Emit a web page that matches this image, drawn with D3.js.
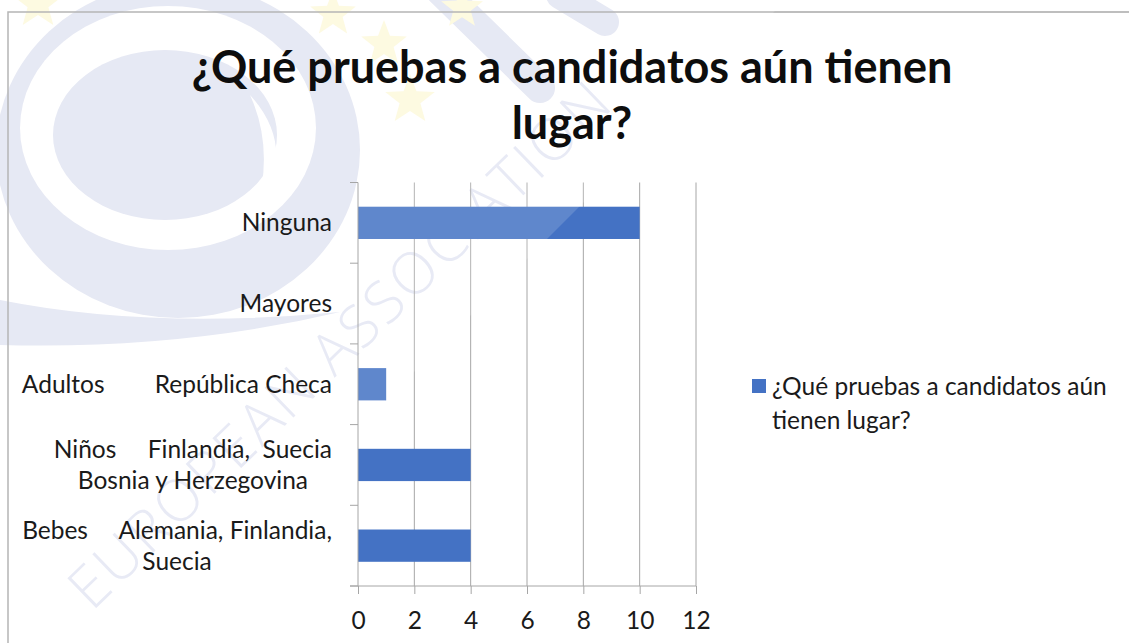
<!DOCTYPE html>
<html>
<head>
<meta charset="utf-8">
<script src="https://cdn.jsdelivr.net/npm/d3@7"></script>
<style>
  html, body { margin: 0; padding: 0; background: #fff; }
  svg { display: block; }
  text { font-family: Lato, "Noto Sans", sans-serif; }
</style>
</head>
<body>
<div id="canvas"></div>
<script>
// data
var categories = ['Ninguna', 'Mayores', 'Adultos', 'Ninos', 'Bebes'];
var values = [10, 0, 1, 4, 4];
var labelLines = [
    ['Ninguna'],
    ['Mayores'],
    ['Adultos        República Checa'],
    ['Niños     Finlandia,  Suecia', 'Bosnia y Herzegovina'],
    ['Bebes     Alemania, Finlandia,', 'Suecia']
];
var xTicks = [0, 2, 4, 6, 8, 10, 12];
var titleLines = ['¿Qué pruebas a candidatos aún tienen', 'lugar?'];
var legendLines = ['¿Qué pruebas a candidatos aún', 'tienen lugar?'];

var W = 1129, H = 643;
var m = {t:182.5, r:433, b:57, l:358};
var fs = 24.5;

var svg = d3.select('#canvas')
    .append('svg')
    .attr('width', W)
    .attr('height', H);

// watermark (faint logo behind everything)
var wm = svg.append('g').attr('class', 'watermark');
var lav = '#e2e5f2';
wm.append('ellipse').attr('cx', 178).attr('cy', 150).attr('rx', 182).attr('ry', 168).attr('fill', lav);
wm.append('ellipse').attr('cx', 168).attr('cy', 128).attr('rx', 148).attr('ry', 122).attr('fill', '#fff');
wm.append('ellipse').attr('cx', 165).attr('cy', 135).attr('rx', 112).attr('ry', 85).attr('fill', lav);
wm.append('path')
    .attr('d', 'M250,95 Q300,150 255,215 Q275,150 250,95 Z')
    .attr('fill', '#fff');
wm.append('path')
    .attr('d', 'M0,300 Q150,330 340,312 Q180,350 0,345 Z')
    .attr('fill', lav);
wm.append('line').attr('x1', 440).attr('y1', -10).attr('x2', 540).attr('y2', 88)
    .attr('stroke', lav).attr('stroke-width', 30).attr('stroke-linecap', 'round');
wm.append('line').attr('x1', 560).attr('y1', -5).attr('x2', 605).attr('y2', 22)
    .attr('stroke', lav).attr('stroke-width', 28).attr('stroke-linecap', 'round');

function star(cx, cy, r) {
    var pts = d3.range(10).map(function(i){
        var a = -Math.PI/2 + i*Math.PI/5;
        var rr = i % 2 ? r*0.42 : r;
        return [cx + rr*Math.cos(a), cy + rr*Math.sin(a)];
    });
    return 'M' + pts.join('L') + 'Z';
}
[[38, 4, 26], [333, 14, 24], [384, 44, 24], [410, 100, 26], [462, 8, 22]].forEach(function(s){
    wm.append('path').attr('d', star(s[0], s[1], s[2])).attr('fill', '#fdf9dc');
});

wm.append('text')
    .attr('transform', 'translate(92,612) rotate(-44)')
    .attr('font-size', 58)
    .attr('letter-spacing', 3)
    .attr('fill', '#e4e7f4')
    .style('font-family', '"Open Sans", sans-serif')
    .style('font-weight', 300)
    .text('EUROPEAN ASSOCIATION');

// chart area border
svg.append('path')
    .attr('d', 'M8,' + H + 'V12H' + W)
    .attr('fill', 'none')
    .attr('stroke', '#a9a9a9')
    .attr('stroke-width', 1.5);

// scales
var scaleX = d3.scaleLinear()
    .domain([0, 12])
    .range([m.l, W - m.r]);
var scaleY = d3.scaleBand()
    .domain(categories)
    .range([m.t, H - m.b])
    .paddingInner(0.6)
    .paddingOuter(0.3);

var y0 = m.t, y1 = H - m.b;
var step = scaleY.step();
var gridColor = '#a6a6a6';

// vertical gridlines
svg.append('g').selectAll('line')
    .data(xTicks.slice(1))
    .enter().append('line')
    .attr('x1', function(d){ return scaleX(d); })
    .attr('x2', function(d){ return scaleX(d); })
    .attr('y1', y0).attr('y2', y1)
    .attr('stroke', gridColor).attr('stroke-width', 1);

// bars
svg.append('g').selectAll('rect')
    .data(values)
    .enter().append('rect')
    .attr('x', scaleX(0))
    .attr('y', function(d, i){ return scaleY(categories[i]); })
    .attr('width', function(d){ return scaleX(d) - scaleX(0); })
    .attr('height', scaleY.bandwidth())
    .attr('fill', '#4472c4');

// faint lightening from the watermark over the bars
svg.append('path')
    .attr('d', 'M0,0H786L0,786Z')
    .attr('fill', '#fff')
    .attr('opacity', 0.15);

// x axis
var axisX = d3.axisBottom(scaleX)
    .tickValues(xTicks)
    .tickSize(8)
    .tickSizeOuter(0)
    .tickPadding(18);
var gx = svg.append('g')
    .attr('transform', 'translate(0,' + y1 + ')')
    .call(axisX);
gx.select('.domain').remove();
gx.append('line')
    .attr('x1', m.l - 8).attr('x2', scaleX(12))
    .attr('stroke', gridColor);
gx.selectAll('.tick line').attr('stroke', gridColor);
gx.selectAll('.tick text')
    .attr('fill', '#1a1a1a')
    .attr('font-size', fs)
    .style('font-family', 'Lato, sans-serif');

// y axis line and band ticks
var gy = svg.append('g');
gy.append('line')
    .attr('x1', m.l).attr('x2', m.l)
    .attr('y1', y0).attr('y2', y1)
    .attr('stroke', gridColor);
gy.selectAll('.bt')
    .data(d3.range(categories.length + 1))
    .enter().append('line')
    .attr('x1', m.l - 8).attr('x2', m.l)
    .attr('y1', function(i){ return y0 + i*step; })
    .attr('y2', function(i){ return y0 + i*step; })
    .attr('stroke', gridColor);

// category labels (right aligned block, lines centred on each other)
var lineH = 31;
var labelRight = 332;
labelLines.forEach(function(lines, i){
    var cy = scaleY(categories[i]) + scaleY.bandwidth()/2;
    var g = svg.append('g');
    var texts = lines.map(function(l, j){
        return g.append('text')
            .attr('y', cy + (j - (lines.length - 1)/2)*lineH)
            .attr('dy', '0.35em')
            .attr('font-size', fs)
            .attr('fill', '#1a1a1a')
            .attr('text-anchor', 'middle')
            .style('white-space', 'pre')
            .text(l);
    });
    var maxW = d3.max(texts, function(t){ return t.node().getComputedTextLength(); });
    texts.forEach(function(t){ t.attr('x', labelRight - maxW/2); });
});

// title
svg.append('g').selectAll('text')
    .data(titleLines)
    .enter().append('text')
    .attr('x', 572)
    .attr('y', function(d, i){ return 67 + i*56; })
    .attr('dy', '0.35em')
    .attr('text-anchor', 'middle')
    .attr('font-size', 45)
    .attr('font-weight', 'bold')
    .attr('fill', '#0d0d0d')
    .text(function(d){ return d; });

// legend
var lg = svg.append('g');
lg.append('rect')
    .attr('x', 752).attr('y', 379)
    .attr('width', 14).attr('height', 14)
    .attr('fill', '#4472c4');
lg.selectAll('text')
    .data(legendLines)
    .enter().append('text')
    .attr('x', 772)
    .attr('y', function(d, i){ return 386 + i*34; })
    .attr('dy', '0.35em')
    .attr('font-size', fs)
    .attr('fill', '#1a1a1a')
    .text(function(d){ return d; });
</script>
</body>
</html>
